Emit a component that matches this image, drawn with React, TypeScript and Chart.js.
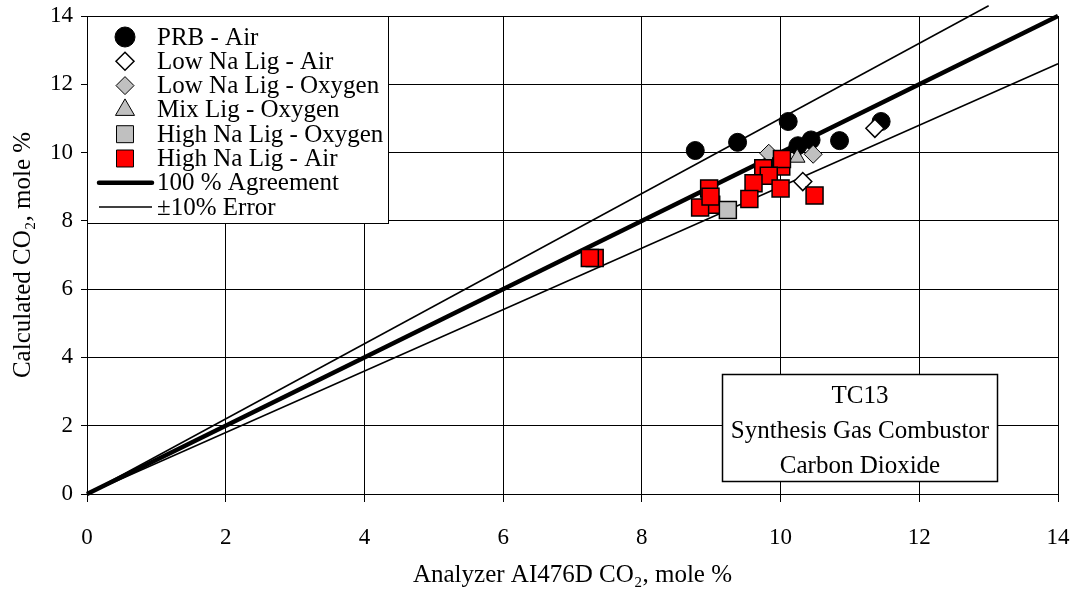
import React, { useEffect, useRef } from "react";
import { Chart, registerables } from "chart.js";

Chart.register(...registerables);

const prbAir = [
  { x: 8.77, y: 10.06 },
  { x: 9.38, y: 10.3 },
  { x: 10.11, y: 10.91 },
  { x: 10.25, y: 10.2 },
  { x: 10.44, y: 10.37 },
  { x: 10.85, y: 10.35 },
  { x: 11.45, y: 10.91 },
];
const lowNaAir = [
  { x: 11.36, y: 10.71 },
  { x: 10.32, y: 9.15 },
];
const lowNaOxy = [
  { x: 9.83, y: 9.98 },
  { x: 10.47, y: 9.95 },
];
const mixOxy = [{ x: 10.24, y: 9.85 }];
const highNaOxy = [{ x: 9.24, y: 8.32 }];
const highNaAir = [
  { x: 10.01, y: 9.59 },
  { x: 10.02, y: 9.81 },
  { x: 9.75, y: 9.54 },
  { x: 9.83, y: 9.32 },
  { x: 9.61, y: 9.1 },
  { x: 9.55, y: 8.64 },
  { x: 10.0, y: 8.95 },
  { x: 10.49, y: 8.74 },
  { x: 9.0, y: 8.47 },
  { x: 8.84, y: 8.39 },
  { x: 8.97, y: 8.95 },
  { x: 8.99, y: 8.71 },
  { x: 7.32, y: 6.91 },
  { x: 7.25, y: 6.91 },
];
const agreeLine = [
  { x: 0, y: 0 },
  { x: 14, y: 14 },
];
const upperLine = [
  { x: 0, y: 0 },
  { x: 13, y: 14.3 },
];
const lowerLine = [
  { x: 0, y: 0 },
  { x: 14, y: 12.6 },
];
const axisTicks = [0, 2, 4, 6, 8, 10, 12, 14];
const legendLabels = [
  "PRB - Air",
  "Low Na Lig - Air",
  "Low Na Lig - Oxygen",
  "Mix Lig - Oxygen",
  "High Na Lig - Oxygen",
  "High Na Lig - Air",
  "100 % Agreement",
  "\u00b110% Error",
];
const noteLines = ["TC13", "Synthesis Gas Combustor", "Carbon Dioxide"];

const FONT = "'Liberation Serif', 'Times New Roman', serif";

function drawMarker(ctx: CanvasRenderingContext2D, kind: string, x: number, y: number, r: number, fill: string, bw: number) {
  ctx.save();
  ctx.beginPath();
  if (kind === "circle") {
    ctx.arc(x, y, r, 0, Math.PI * 2);
  } else if (kind === "rectRot") {
    ctx.moveTo(x, y - r);
    ctx.lineTo(x + r, y);
    ctx.lineTo(x, y + r);
    ctx.lineTo(x - r, y);
    ctx.closePath();
  } else if (kind === "triangle") {
    ctx.moveTo(x, y - r);
    ctx.lineTo(x + r * 0.866, y + r * 0.5);
    ctx.lineTo(x - r * 0.866, y + r * 0.5);
    ctx.closePath();
  } else if (kind === "rect") {
    const s = r * Math.SQRT1_2;
    ctx.rect(x - s, y - s, 2 * s, 2 * s);
  }
  ctx.fillStyle = fill;
  ctx.fill();
  ctx.lineWidth = bw;
  ctx.strokeStyle = "#000";
  ctx.stroke();
  ctx.restore();
}

const overlayPlugin = {
  id: "overlay",
  afterDatasetsDraw(chart: any) {
    const ctx: CanvasRenderingContext2D = chart.ctx;
    const a = chart.chartArea;
    const lx = a.left + 0.5;
    const ly = a.top + 0.5;
    const lw = 301;
    const lh = 207;
    ctx.save();
    ctx.fillStyle = "#fff";
    ctx.fillRect(lx, ly, lw, lh);
    ctx.strokeStyle = "#000";
    ctx.lineWidth = 1;
    ctx.strokeRect(lx, ly, lw, lh);
    ctx.font = "25px " + FONT;
    ctx.fillStyle = "#000";
    ctx.textBaseline = "middle";
    ctx.textAlign = "left";
    const mx = a.left + 38;
    const tx = a.left + 70;
    const markers = [
      { k: "circle", f: "#000", r: 10, bw: 1 },
      { k: "rectRot", f: "#fff", r: 9, bw: 1.5 },
      { k: "rectRot", f: "#c0c0c0", r: 9, bw: 1 },
      { k: "triangle", f: "#c0c0c0", r: 11, bw: 1 },
      { k: "rect", f: "#c0c0c0", r: 12, bw: 1 },
      { k: "rect", f: "#ff0000", r: 12, bw: 1 },
    ];
    legendLabels.forEach((lab, i) => {
      const yy = a.top + 21 + i * 24.3;
      if (i < 6) {
        const m = markers[i];
        drawMarker(ctx, m.k, mx, yy, m.r, m.f, m.bw);
      } else {
        ctx.beginPath();
        ctx.lineWidth = i === 6 ? 4.5 : 1.5;
        ctx.lineCap = i === 6 ? "round" : "butt";
        ctx.moveTo(a.left + 12, yy);
        ctx.lineTo(a.left + 65, yy);
        ctx.strokeStyle = "#000";
        ctx.stroke();
      }
      ctx.fillStyle = "#000";
      ctx.fillText(lab, tx, yy + 1);
    });
    const bx = a.left + 635.5;
    const by = a.top + 358.5;
    const bw = 275;
    const bh = 107;
    ctx.fillStyle = "#fff";
    ctx.fillRect(bx, by, bw, bh);
    ctx.lineWidth = 1.5;
    ctx.strokeStyle = "#000";
    ctx.strokeRect(bx, by, bw, bh);
    ctx.fillStyle = "#000";
    ctx.textAlign = "center";
    noteLines.forEach((t, i) => {
      ctx.fillText(t, bx + bw / 2, by + 22 + i * 35);
    });
    ctx.restore();
  },
};

export default function App() {
  const ref = useRef<HTMLCanvasElement | null>(null);
  useEffect(() => {
    document.body.style.margin = "0";
    const canvas = ref.current;
    if (!canvas) return;
    const lineDs = (data: any[], w: number, order: number) => ({
      data,
      showLine: true,
      borderColor: "#000",
      borderWidth: w,
      pointRadius: 0,
      pointHoverRadius: 0,
      fill: false,
      clip: false,
      order,
    });
    const ptDs = (data: any[], style: string, r: number, bg: string, bw: number, order: number) => ({
      data,
      showLine: false,
      pointStyle: style,
      pointRadius: r,
      pointHoverRadius: r,
      backgroundColor: bg,
      borderColor: "#000",
      borderWidth: bw,
      clip: false,
      order,
    });
    const chart = new Chart(canvas, {
      type: "scatter",
      data: {
        datasets: [
          lineDs(agreeLine, 4.5, 20),
          lineDs(upperLine, 1.5, 21),
          lineDs(lowerLine, 1.5, 22),
          ptDs(prbAir, "circle", 9, "#000", 1, 10),
          ptDs(lowNaAir, "rectRot", 9, "#fff", 1.5, 9),
          ptDs(lowNaOxy, "rectRot", 9, "#c0c0c0", 1, 8),
          ptDs(mixOxy, "triangle", 9, "#c0c0c0", 1, 7),
          ptDs(highNaAir, "rect", 12, "#ff0000", 1.5, 6),
          ptDs(highNaOxy, "rect", 12, "#c0c0c0", 1.5, 5),
        ] as any,
      },
      options: {
        responsive: false,
        animation: false,
        events: [],
        layout: { padding: { top: 16, right: 15, left: 0, bottom: 0 } },
        plugins: { legend: { display: false }, tooltip: { enabled: false } },
        scales: {
          x: {
            type: "linear",
            min: 0,
            max: 14,
            afterBuildTicks: (s: any) => {
              s.ticks = axisTicks.map((v) => ({ value: v }));
            },
            afterFit: (s: any) => {
              s.height = 98;
              s.paddingLeft = 0;
              s.paddingRight = 0;
            },
            ticks: {
              font: { family: FONT, size: 23 },
              color: "#000",
              padding: 22,
              maxRotation: 0,
            },
            grid: { color: "#000", lineWidth: 1, tickLength: 8, tickColor: "#000" },
            border: { color: "#000", width: 1 },
            title: {
              display: true,
              text: "Analyzer AI476D CO\u2082, mole %",
              font: { family: FONT, size: 25 },
              color: "#000",
              padding: { top: 0, bottom: 2 },
            },
          },
          y: {
            type: "linear",
            min: 0,
            max: 14,
            afterBuildTicks: (s: any) => {
              s.ticks = axisTicks.map((v) => ({ value: v }));
            },
            afterFit: (s: any) => {
              s.width = 87;
              s.paddingTop = 0;
              s.paddingBottom = 0;
            },
            ticks: {
              font: { family: FONT, size: 23 },
              color: "#000",
              padding: 8,
            },
            grid: { color: "#000", lineWidth: 1, tickLength: 6, tickColor: "#000" },
            border: { color: "#000", width: 1 },
            title: {
              display: true,
              text: "Calculated CO\u2082, mole %",
              font: { family: FONT, size: 25 },
              color: "#000",
              padding: { top: 8, bottom: 0 },
            },
          },
        },
      },
      plugins: [overlayPlugin],
    } as any);
    return () => chart.destroy();
  }, []);
  return (
    <div style={{ position: "absolute", left: 0, top: 0, width: 1073, height: 592, background: "#fff" }}>
      <canvas ref={ref} width={1073} height={592} style={{ display: "block" }} />
    </div>
  );
}
